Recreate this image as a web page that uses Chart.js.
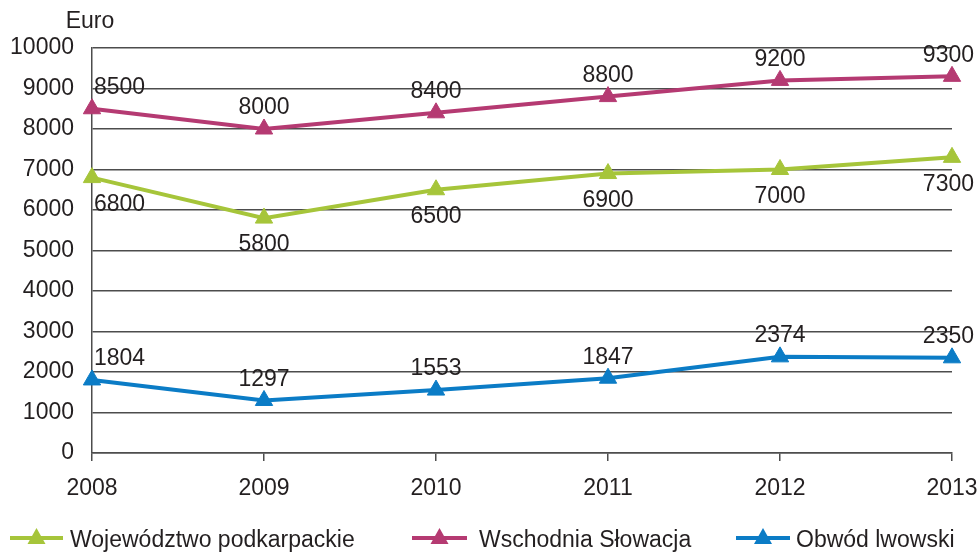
<!DOCTYPE html>
<html>
<head>
<meta charset="utf-8">
<script src="https://cdn.jsdelivr.net/npm/chart.js@4/dist/chart.umd.min.js"></script>
<style>
  body { margin: 0; background: #ffffff; }
  #wrap { width: 979px; height: 553px; position: relative; }
</style>
</head>
<body>
<div id="wrap"><canvas id="euroChart"></canvas></div>
<script>
// Years on the x axis
let years = ["2008", "2009", "2010", "2011", "2012", "2013"];

// Series values (Euro)
let podkarpackie = [6800, 5800, 6500, 6900, 7000, 7300];
let slowacja = [8500, 8000, 8400, 8800, 9200, 9300];
let lwowski = [1804, 1297, 1553, 1847, 2374, 2350];

// Series names
let seriesNames = ["Województwo podkarpackie", "Wschodnia Słowacja", "Obwód lwowski"];
let seriesColors = ["#a6c53a", "#b53a72", "#0b7cc6"];
// where the value label sits: above or below the point
let labelSides = ["below", "above", "above"];

let fontFamily = "'Liberation Sans', Arial, sans-serif";
let fontSize = 23;

function makeSet(name, values, color) {
    return {
        label: name,
        data: values,
        borderColor: color,
        backgroundColor: color,
        borderWidth: 4,
        pointStyle: "triangle",
        pointRadius: 10,
        pointHoverRadius: 10,
        pointBorderWidth: 1,
        tension: 0,
        fill: false,
        clip: false
    };
}

// Draws the value labels, the "Euro" caption and the legend at the bottom
let extrasPlugin = {
    id: "extras",
    afterDatasetsDraw(chart) {
        let ctx = chart.ctx;
        let area = chart.chartArea;
        ctx.save();
        ctx.fillStyle = "#231f20";
        ctx.font = fontSize + "px " + fontFamily;
        ctx.textBaseline = "middle";

        chart.data.datasets.forEach(function (ds, i) {
            let meta = chart.getDatasetMeta(i);
            let last = meta.data.length - 1;
            meta.data.forEach(function (pt, j) {
                let text = String(ds.data[j]);
                let x = pt.x;
                let y = labelSides[i] == "above" ? pt.y - 21 : pt.y + 27;
                if (j == 0) {
                    ctx.textAlign = "left";
                    x = x + 2;
                } else if (j == last) {
                    // keep the last label inside the picture
                    ctx.textAlign = "right";
                    x = x + 22;
                } else {
                    ctx.textAlign = "center";
                }
                ctx.fillText(text, x, y);
            });
        });

        // axis caption
        ctx.textAlign = "center";
        ctx.fillText("Euro", area.left - 2, 22);

        // legend: line with triangle, then the name
        let legendY = chart.height - 13;
        let lineStart = [10, 412, 736];
        let lineLength = [53, 55, 54];
        let textStart = [70, 479, 796];
        seriesNames.forEach(function (name, i) {
            let x0 = lineStart[i];
            let mid = x0 + lineLength[i] / 2;
            ctx.strokeStyle = seriesColors[i];
            ctx.fillStyle = seriesColors[i];
            ctx.lineWidth = 4;
            ctx.beginPath();
            ctx.moveTo(x0, legendY - 2);
            ctx.lineTo(x0 + lineLength[i], legendY - 2);
            ctx.stroke();
            ctx.beginPath();
            ctx.moveTo(mid, legendY - 12);
            ctx.lineTo(mid + 9, legendY + 4);
            ctx.lineTo(mid - 9, legendY + 4);
            ctx.closePath();
            ctx.fill();
            ctx.fillStyle = "#231f20";
            ctx.textAlign = "left";
            ctx.fillText(name, textStart[i], legendY + 1);
        });
        ctx.restore();
    }
};

let chartCanvas = document.getElementById("euroChart");
let euroChart = new Chart(chartCanvas.getContext("2d"), {
    type: "line",
    data: {
        labels: years,
        datasets: [
            makeSet(seriesNames[0], podkarpackie, seriesColors[0]),
            makeSet(seriesNames[1], slowacja, seriesColors[1]),
            makeSet(seriesNames[2], lwowski, seriesColors[2])
        ]
    },
    options: {
        responsive: true,
        maintainAspectRatio: false,
        animation: false,
        layout: {
            padding: { left: 0, right: 27, top: 48, bottom: 45 }
        },
        plugins: {
            legend: { display: false },
            tooltip: { enabled: false }
        },
        scales: {
            x: {
                offset: false,
                border: { display: true, color: "#4d4d4d", width: 1.5 },
                grid: {
                    drawOnChartArea: false,
                    drawTicks: true,
                    tickLength: 8,
                    color: "#4d4d4d",
                    lineWidth: 1.5
                },
                ticks: {
                    color: "#231f20",
                    font: { size: fontSize, family: fontFamily },
                    padding: 14,
                    maxRotation: 0
                },
                afterFit(scale) {
                    scale.height = 55;
                    scale.paddingRight = 0;
                }
            },
            y: {
                min: 0,
                max: 10000,
                border: { display: true, color: "#4d4d4d", width: 1.5 },
                grid: {
                    drawTicks: false,
                    color: "#4d4d4d",
                    lineWidth: 1.5
                },
                ticks: {
                    stepSize: 1000,
                    color: "#231f20",
                    font: { size: fontSize, family: fontFamily },
                    padding: 18,
                    callback: function (value) { return String(value); }
                },
                afterFit(scale) {
                    scale.width = 92;
                }
            }
        }
    },
    plugins: [extrasPlugin]
});
</script>
</body>
</html>
